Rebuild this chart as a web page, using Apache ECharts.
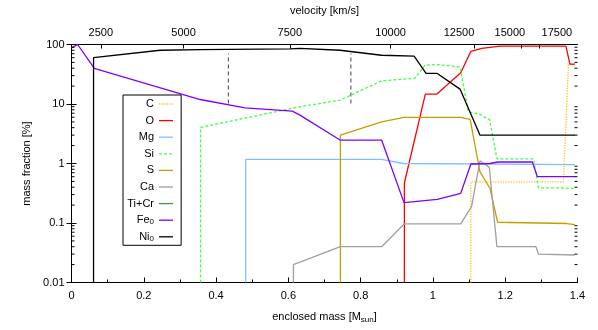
<!DOCTYPE html>
<html>
<head>
<meta charset="utf-8">
<script src="https://cdn.jsdelivr.net/npm/echarts@6/dist/echarts.min.js"></script>
<style>
  html, body {margin: 0; background: #fff}
  #chart {width: 598px; height: 330px}
</style>
</head>
<body>
<div id="chart"></div>
<script>
// abundance profiles, [enclosed mass (Msun), mass fraction (%)]
const C = [[1.105, 0.01], [1.105, 0.49], [1.361, 0.49], [1.375, 46], [1.393, 46]]
const O = [[0.921, 0.01], [0.921, 0.47], [0.979, 14.7], [1.011, 14.7], [1.077, 33.4], [1.105, 77], [1.135, 86], [1.186, 94], [1.368, 94], [1.379, 46.7], [1.393, 46.7]]
const Mg = [[0.482, 0.01], [0.482, 1.17], [0.858, 1.17], [0.918, 1.0], [1.393, 0.96]]
const Si = [[0.357, 0.01], [0.357, 4.05], [0.632, 9.0], [0.743, 11.6], [0.858, 24.5], [0.95, 27], [0.978, 45], [1.012, 46], [1.075, 42], [1.098, 7.4], [1.13, 6.7], [1.157, 5.4], [1.177, 1.2], [1.278, 1.2], [1.292, 0.39], [1.343, 0.39], [1.393, 0.38]]
const S = [[0.744, 0.01], [0.744, 3.0], [0.858, 5.0], [0.92, 5.96], [1.077, 5.96], [1.103, 5.5], [1.13, 0.73], [1.158, 0.38], [1.179, 0.103], [1.37, 0.098], [1.393, 0.094]]
const Ca = [[0.614, 0.01], [0.614, 0.02], [0.744, 0.04], [0.858, 0.04], [0.921, 0.097], [1.077, 0.097], [1.107, 0.19], [1.13, 1.11], [1.156, 0.86], [1.177, 0.04], [1.285, 0.04], [1.292, 0.03], [1.393, 0.029]]
const TiCr = []
const Fe0 = [[0, 88], [0.017, 100], [0.063, 39.6], [0.356, 11.9], [0.48, 8.6], [0.611, 7.6], [0.632, 6.5], [0.743, 2.48], [0.858, 2.48], [0.92, 0.22], [1.012, 0.25], [1.077, 0.316], [1.105, 0.98], [1.158, 1.0], [1.179, 1.06], [1.275, 1.06], [1.289, 0.6], [1.393, 0.6]]
const Ni0 = [[0.061, 0.01], [0.061, 60], [0.245, 80], [0.356, 82], [0.605, 84.5], [0.632, 86], [0.743, 80], [0.858, 66], [0.948, 64], [0.981, 32.6], [1.012, 32.6], [1.075, 17.8], [1.13, 3.0], [1.393, 3.0]]

// dashed marker lines
const guideMass = [0.434, 0.773]
const guideRange = [10.2, 70.6]

// velocity axis on top: tick positions and label positions in enclosed mass
const velLabels = ['2500', '5000', '7500', '10000', '12500', '15000', '17500']
const velTicks = [0.081, 0.31, 0.604, 0.883, 1.114, 1.243, 1.294]
const velLabelPos = [0.081, 0.31, 0.604, 0.883, 1.072, 1.213, 1.343]

const names = ['C', 'O', 'Mg', 'Si', 'S', 'Ca', 'Ti+Cr', 'Fe0', 'Ni0']
const profiles = [C, O, Mg, Si, S, Ca, TiCr, Fe0, Ni0]
const colors = ['#ffc020', '#ff0000', '#80c0ff', '#44ff44', '#c0a000', '#a0a0a0', '#3c9a3c', '#8000ff', '#000000']
const dashes = ['dotted', 'solid', 'solid', [3, 2], 'solid', 'solid', 'solid', 'solid', 'solid']

// minor ticks of the log axis (2..9 per decade)
const minorTicks = []
for (let e = -2; e < 2; e++) {
  for (let k = 2; k <= 9; k++) minorTicks.push(+(k * Math.pow(10, e)).toPrecision(2))
}

const font = 'Liberation Sans, Arial, Helvetica, sans-serif'
const chart = echarts.init(document.getElementById('chart'))

const series = profiles.map((d, i) => ({
  name: names[i],
  type: 'line',
  data: d,
  symbol: 'none',
  color: colors[i],
  lineStyle: {color: colors[i], width: 1.3, type: dashes[i]},
  animation: false
}))

guideMass.forEach(m => {
  series.push({
    type: 'line',
    data: [[m, guideRange[0]], [m, guideRange[1]]],
    symbol: 'none',
    lineStyle: {color: '#444', width: 1, type: [4, 3]},
    z: 1,
    animation: false
  })
})

series.push({
  type: 'custom',
  silent: true,
  data: minorTicks.map(v => [0, v]),
  encode: {x: 0, y: 1},
  z: 10,
  renderItem: (params, api) => {
    const v = api.value(1)
    const l = api.coord([0, v])
    const r = api.coord([1.4, v])
    return {
      type: 'group',
      children: [
        {type: 'line', shape: {x1: l[0], y1: l[1], x2: l[0] + 3, y2: l[1]}, style: {stroke: '#000', lineWidth: 1}},
        {type: 'line', shape: {x1: r[0] - 3, y1: r[1], x2: r[0], y2: r[1]}, style: {stroke: '#000', lineWidth: 1}}
      ]
    }
  },
  animation: false
})

const nearest = (arr, v) => {
  let best = 0
  arr.forEach((a, i) => { if (Math.abs(a - v) < Math.abs(arr[best] - v)) best = i })
  return best
}

chart.setOption({
  animation: false,
  textStyle: {fontFamily: font},
  grid: {left: 71.5, right: 20.5, top: 44.5, bottom: 47.5, outerBoundsMode: 'none'},
  legend: {
    left: 123,
    top: 95,
    orient: 'vertical',
    align: 'right',
    data: names,
    backgroundColor: '#fff',
    borderColor: '#000',
    borderWidth: 1,
    borderRadius: 0,
    padding: [3, 7.5, 2.5, 3],
    itemWidth: 14,
    itemHeight: 12,
    itemGap: 4.6,
    selectedMode: false,
    itemStyle: {opacity: 0},
    lineStyle: {width: 1.3},
    formatter: n => n.replace(/^(Fe|Ni)0$/, '$1{sub|0}'),
    textStyle: {
      fontFamily: font,
      fontSize: 11,
      color: '#000',
      width: 28,
      align: 'right',
      lineHeight: 12,
      rich: {sub: {fontSize: 8, fontFamily: font, verticalAlign: 'bottom', padding: [5, 0, 0, 0]}}
    }
  },
  xAxis: [
    {
      type: 'value',
      min: 0,
      max: 1.4,
      interval: 0.2,
      position: 'bottom',
      name: 'enclosed mass [M{sub|sun}]',
      nameLocation: 'middle',
      nameGap: 28,
      nameTextStyle: {
        fontFamily: font, fontSize: 11, color: '#000',
        rich: {sub: {fontSize: 8, fontFamily: font, padding: [5, 0, 0, 0]}}
      },
      axisLine: {lineStyle: {color: '#000', width: 1}},
      axisTick: {inside: true, length: 5, lineStyle: {color: '#000'}},
      minorTick: {show: true, splitNumber: 2, length: 3, lineStyle: {color: '#000'}},
      axisLabel: {fontFamily: font, fontSize: 11, color: '#000', margin: 8},
      splitLine: {show: false}
    },
    {
      type: 'value',
      min: 0,
      max: 1.4,
      position: 'top',
      name: 'velocity [km/s]',
      nameLocation: 'middle',
      nameGap: 28,
      nameTextStyle: {fontFamily: font, fontSize: 11, color: '#000'},
      axisLine: {lineStyle: {color: '#000', width: 1}},
      axisTick: {inside: true, length: 4, customValues: velTicks, lineStyle: {color: '#000'}},
      axisLabel: {
        fontFamily: font, fontSize: 11, color: '#000', margin: 6,
        customValues: velLabelPos,
        formatter: v => velLabels[nearest(velLabelPos, v)]
      },
      splitLine: {show: false}
    }
  ],
  yAxis: [
    {
      type: 'log',
      logBase: 10,
      min: 0.01,
      max: 100,
      name: 'mass fraction [%]',
      nameLocation: 'middle',
      nameGap: 38,
      nameTextStyle: {fontFamily: font, fontSize: 11, color: '#000'},
      axisLine: {show: true, lineStyle: {color: '#000', width: 1}},
      axisTick: {show: true, inside: true, length: 5, lineStyle: {color: '#000'}},
      axisLabel: {
        fontFamily: font, fontSize: 11, color: '#000', margin: 7,
        formatter: v => v >= 1 ? String(Math.round(v)) : String(+v.toFixed(2))
      },
      splitLine: {show: false}
    },
    {
      type: 'log',
      logBase: 10,
      min: 0.01,
      max: 100,
      position: 'right',
      axisLine: {show: true, lineStyle: {color: '#000', width: 1}},
      axisTick: {show: true, inside: true, length: 5, lineStyle: {color: '#000'}},
      axisLabel: {show: false},
      splitLine: {show: false}
    }
  ],
  series: series
})
</script>
</body>
</html>
